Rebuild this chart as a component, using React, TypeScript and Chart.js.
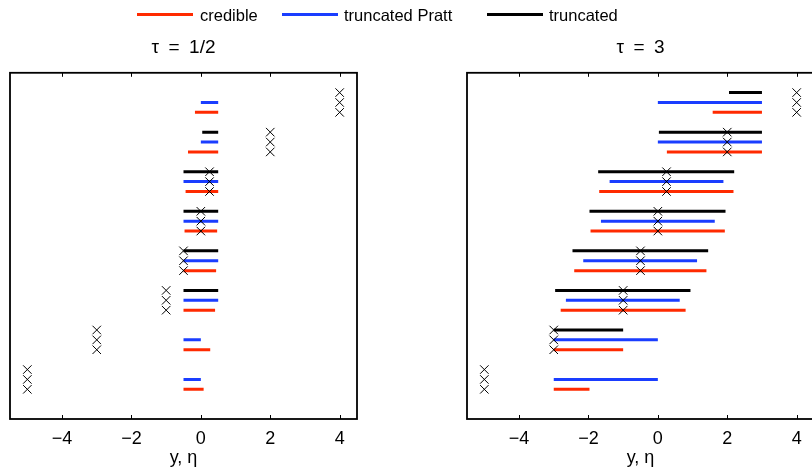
import React, { useEffect, useRef } from 'react';
import { Chart, registerables } from 'chart.js';

Chart.register(...registerables);

// ---- data ----
const xTicks = [-4, -2, 0, 2, 4];
const observed = [4, 2, 0.25, 0, -0.5, -1, -3, -5];

// tau = 1/2
const credibleLoHalf = [-0.17, -0.37, -0.44, -0.47, -0.5, -0.5, -0.5, -0.5];
const credibleHiHalf = [0.5, 0.5, 0.5, 0.47, 0.44, 0.41, 0.27, 0.08];
const prattLoHalf = [0, 0, -0.5, -0.5, -0.5, -0.5, -0.5, -0.5];
const prattHiHalf = [0.5, 0.5, 0.5, 0.5, 0.5, 0.5, 0, 0];
const truncLoHalf = [null, 0.04, -0.5, -0.5, -0.5, -0.5, null, null];
const truncHiHalf = [null, 0.5, 0.5, 0.5, 0.5, 0.5, null, null];

// tau = 3
const credibleLo3 = [1.58, 0.26, -1.69, -1.94, -2.41, -2.8, -3, -3];
const credibleHi3 = [3, 3, 2.18, 1.93, 1.4, 0.8, -1, -1.97];
const prattLo3 = [0, 0, -1.39, -1.64, -2.15, -2.65, -3, -3];
const prattHi3 = [3, 3, 1.89, 1.64, 1.13, 0.63, 0, 0];
const truncLo3 = [2.05, 0.03, -1.72, -1.97, -2.46, -2.96, -3, null];
const truncHi3 = [3, 3, 2.2, 1.95, 1.45, 0.94, -1, null];

const RED = '#ff2a00';
const BLUE = '#1a3dff';
const BLACK = '#000000';
const FONT = '"Liberation Sans", Arial, Helvetica, sans-serif';

function segs(lo: (number | null)[], hi: (number | null)[], m: number) {
  const out: any[] = [];
  lo.forEach((l, g) => {
    const h = hi[g];
    if (l == null || h == null) return;
    const y = 4 * g + m;
    out.push({ x: l, y }, { x: h, y }, { x: h, y: null });
  });
  return out;
}

const fmt = (v: number) => (v < 0 ? '\u2212' + Math.abs(v) : String(v));

const framePlugin = {
  id: 'frame',
  afterDatasetsDraw(chart: any) {
    const { ctx, chartArea: a, scales } = chart;
    const x = scales.x;
    ctx.save();
    ctx.strokeStyle = '#000';
    ctx.lineWidth = 1;
    ctx.beginPath();
    x.ticks.forEach((t: any) => {
      const px = Math.round(x.getPixelForValue(t.value)) + 0.5;
      ctx.moveTo(px, a.bottom);
      ctx.lineTo(px, a.bottom - 4);
      ctx.moveTo(px, a.top);
      ctx.lineTo(px, a.top + 4);
    });
    ctx.stroke();
    ctx.lineWidth = 1.8;
    ctx.strokeRect(a.left, a.top, a.right - a.left, a.bottom - a.top);
    ctx.restore();
  },
};

type PanelProps = {
  title: string;
  left: number;
  cLo: (number | null)[];
  cHi: (number | null)[];
  pLo: (number | null)[];
  pHi: (number | null)[];
  tLo: (number | null)[];
  tHi: (number | null)[];
};

const W = 400;
const H = 468;

function Panel(props: PanelProps) {
  const ref = useRef<HTMLCanvasElement>(null);
  useEffect(() => {
    const markers: any[] = [];
    observed.forEach((v, g) => {
      for (let m = 0; m < 3; m++) markers.push({ x: v, y: 4 * g + m });
    });
    const lineDs = (label: string, data: any[], color: string) => ({
      type: 'line' as const,
      label,
      data,
      borderColor: color,
      backgroundColor: color,
      borderWidth: 3,
      borderCapStyle: 'butt' as const,
      pointRadius: 0,
      spanGaps: false,
      fill: false,
      tension: 0,
      order: 1,
    });
    const chart = new Chart(ref.current as HTMLCanvasElement, {
      type: 'scatter',
      data: {
        datasets: [
          {
            label: 'y',
            data: markers,
            pointStyle: 'crossRot',
            pointRadius: 6,
            borderColor: '#000',
            borderWidth: 1,
            backgroundColor: 'transparent',
            showLine: false,
            order: 0,
          } as any,
          lineDs('truncated', segs(props.tLo, props.tHi, 0), BLACK),
          lineDs('truncated Pratt', segs(props.pLo, props.pHi, 1), BLUE),
          lineDs('credible', segs(props.cLo, props.cHi, 2), RED),
        ],
      },
      options: {
        animation: false,
        responsive: false,
        events: [],
        layout: { padding: { left: 10, right: W - 357, top: 0, bottom: 0 } },
        plugins: {
          legend: { display: false },
          tooltip: { enabled: false },
          title: {
            display: true,
            text: props.title,
            color: '#000',
            font: { family: FONT, size: 19, weight: 'normal' },
            padding: { top: 36, bottom: 14 },
          },
        },
        scales: {
          x: {
            type: 'linear',
            min: -5.5,
            max: 4.5,
            afterBuildTicks: (s: any) => {
              s.ticks = xTicks.map((v) => ({ value: v }));
            },
            afterFit: (s: any) => {
              s.height = 49;
            },
            grid: { display: false },
            border: { display: false },
            ticks: {
              callback: (v: any) => fmt(Number(v)),
              color: '#000',
              font: { family: FONT, size: 18 },
              padding: 1,
              maxRotation: 0,
              autoSkip: false,
            },
            title: {
              display: true,
              text: 'y, \u03b7',
              color: '#000',
              font: { family: FONT, size: 18 },
              padding: { top: 0, bottom: -1 },
            },
          },
          y: {
            type: 'linear',
            min: -2,
            max: 33,
            reverse: true,
            display: false,
          },
        },
      } as any,
      plugins: [framePlugin],
    });
    return () => chart.destroy();
  }, []);
  return (
    <canvas
      ref={ref}
      width={W}
      height={H}
      style={{ position: 'absolute', left: props.left, top: 0, width: W, height: H }}
    />
  );
}

function LegendItem({ color, label, lineLeft, textLeft }: { color: string; label: string; lineLeft: number; textLeft: number }) {
  return (
    <>
      <div style={{ position: 'absolute', left: lineLeft, top: 13, width: 56, height: 3, background: color }} />
      <div
        style={{
          position: 'absolute',
          left: textLeft,
          top: 5,
          height: 20,
          lineHeight: '20px',
          fontFamily: FONT,
          fontSize: 16.5,
          color: '#000',
          whiteSpace: 'nowrap',
        }}
      >
        {label}
      </div>
    </>
  );
}

export default function App() {
  return (
    <div
      style={{
        position: 'absolute',
        left: 0,
        top: 0,
        width: 812,
        height: 468,
        overflow: 'hidden',
        background: '#fff',
      }}
    >
      <Panel
        title={'\u03c4\u2002=\u20021/2'}
        left={0}
        cLo={credibleLoHalf}
        cHi={credibleHiHalf}
        pLo={prattLoHalf}
        pHi={prattHiHalf}
        tLo={truncLoHalf}
        tHi={truncHiHalf}
      />
      <Panel
        title={'\u03c4\u2002=\u20023'}
        left={457}
        cLo={credibleLo3}
        cHi={credibleHi3}
        pLo={prattLo3}
        pHi={prattHi3}
        tLo={truncLo3}
        tHi={truncHi3}
      />
      <LegendItem color={RED} label="credible" lineLeft={137} textLeft={200} />
      <LegendItem color={BLUE} label="truncated Pratt" lineLeft={282} textLeft={344} />
      <LegendItem color={BLACK} label="truncated" lineLeft={487} textLeft={549} />
    </div>
  );
}
